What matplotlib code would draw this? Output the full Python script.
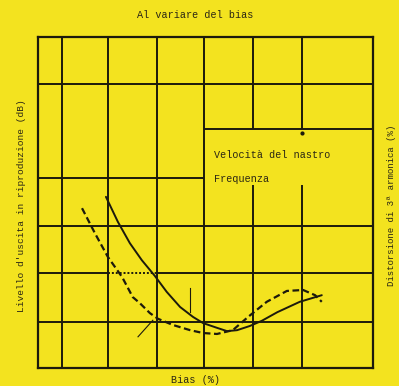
import numpy as np
import matplotlib.pyplot as plt

# Curva continua: livello d'uscita (unità di griglia)
liv_x = [1.42, 1.67, 1.92, 2.17, 2.44, 2.69, 2.97, 3.24, 3.45, 3.74, 3.95, 4.16, 4.43, 4.68, 5.00, 5.47, 5.93]
liv_y = [3.62, 3.09, 2.64, 2.28, 1.95, 1.61, 1.29, 1.08, 0.95, 0.85, 0.78, 0.80, 0.89, 1.00, 1.18, 1.40, 1.54]

# Curva tratteggiata: distorsione di 3a armonica
dist_x = [0.92, 1.19, 1.46, 1.76, 1.98, 2.13, 2.34, 2.51, 2.82, 3.18, 3.45, 3.74, 4.07, 4.39, 4.78, 5.20, 5.54, 5.79, 5.93]
dist_y = [3.38, 2.85, 2.35, 1.92, 1.50, 1.37, 1.16, 1.04, 0.91, 0.80, 0.74, 0.72, 0.80, 1.08, 1.40, 1.63, 1.65, 1.54, 1.40]

# linee della griglia
griglia_x = [0.50, 1.46, 2.49, 3.47, 4.49, 5.52]
griglia_y = [0.97, 2.0, 3.0, 4.02, 5.05, 6.0]

titolo = "Al variare del bias"
etichetta_x = "Bias (%)"
etichetta_y = "Livello d'uscita in riproduzione (dB)"
etichetta_y2 = "Distorsione di 3ª armonica (%)"
legenda = ["Velocità del nastro", "Frequenza"]

giallo = '#f3e31f'
nero = '#1c1a0c'
testo = '#2a2614'

fig = plt.figure(figsize=(3.99, 3.86), dpi=100, facecolor=giallo)
ax = fig.add_axes([0.0952, 0.0466, 0.8396, 0.8575])
ax.set_facecolor(giallo)
ax.set_xlim(0, 7)
ax.set_ylim(0, 7)
ax.set_xticks([])
ax.set_yticks([])
for s in ax.spines.values():
    s.set_linewidth(1.6)
    s.set_color(nero)

lw = 1.4
# verticali
for gx in griglia_x[:4]:
    ax.vlines(gx, 0, 7, color=nero, lw=lw)
for gx in griglia_x[4:]:
    ax.vlines(gx, 0, 3.87, color=nero, lw=lw)
    ax.vlines(gx, griglia_y[4], 7, color=nero, lw=lw)
# orizzontali
for gy in [griglia_y[0], griglia_y[2], griglia_y[5]]:
    ax.hlines(gy, 0, 7, color=nero, lw=lw)
ax.hlines(griglia_y[1], 0, griglia_x[1], color=nero, lw=lw)
ax.hlines(griglia_y[1], griglia_x[1], griglia_x[2], color=nero, lw=lw, linestyles=(0, (1, 1)))
ax.hlines(griglia_y[1], griglia_x[2], 7, color=nero, lw=lw)
ax.hlines(griglia_y[3], 0, griglia_x[3], color=nero, lw=lw)
ax.hlines(griglia_y[4], griglia_x[3], 7, color=nero, lw=lw)

# curve
ax.plot(liv_x, liv_y, color=nero, lw=1.4, solid_capstyle='round', solid_joinstyle='round')
ax.plot(dist_x, dist_y, color=nero, lw=1.6, linestyle=(0, (3, 1.6)))

# segni a mano
ax.plot([3.18, 3.18], [1.18, 1.69], color=nero, lw=0.8)
ax.plot([2.09, 2.40], [0.66, 1.01], color=nero, lw=0.8)
ax.plot([5.52], [4.97], marker='o', ms=2, color=nero)

font = dict(family=['Liberation Mono', 'DejaVu Sans Mono'], color=testo)
fig.text(0.489, 0.960, titolo, ha='center', va='center', fontsize=7.3, **font)
fig.text(0.491, 0.016, etichetta_x, ha='center', va='center', fontsize=7.3, **font)
fig.text(0.055, 0.466, etichetta_y, ha='center', va='center', rotation=90, fontsize=6.8, **font)
fig.text(0.982, 0.469, etichetta_y2, ha='center', va='center', rotation=90, fontsize=6.5, **font)
ax.text(3.68, 4.50, legenda[0], ha='left', va='center', fontsize=7.3, **font)
ax.text(3.68, 3.99, legenda[1], ha='left', va='center', fontsize=7.3, **font)

fig.savefig('out.png', dpi=100, facecolor=giallo)
